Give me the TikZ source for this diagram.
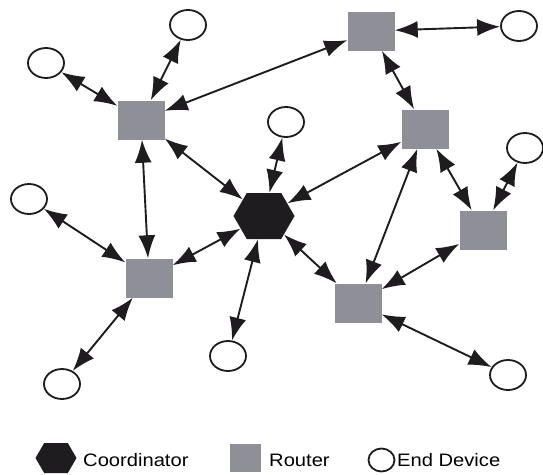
\documentclass[tikz,border=0pt]{standalone}
\usepackage{fontspec}
\setmainfont{Liberation Sans}
\newfontfamily\legfont{Liberation Sans}[FakeStretch=1.12]
\usetikzlibrary{arrows.meta,shapes.geometric,shapes.symbols}
\definecolor{routergray}{RGB}{143,144,151}
\definecolor{inkblack}{RGB}{30,28,30}
\begin{document}
\begin{tikzpicture}[
 router/.style={rectangle,fill=routergray,minimum width=47pt,minimum height=39pt,inner sep=0pt},
 enddev/.style={ellipse,draw=inkblack,line width=1.8pt,fill=white,minimum width=36pt,minimum height=30pt,inner sep=0pt},
 coordnode/.style={signal,signal to=east and west,signal pointer angle=120,fill=inkblack,minimum width=61pt,minimum height=46pt,inner sep=0pt},
 link/.style={line width=1.9pt,draw=inkblack,arrows={Latex[length=23pt,width=17pt]-Latex[length=23pt,width=17pt]}},
 legtext/.style={anchor=west,inner sep=0pt,font=\legfont\fontsize{18}{20}\selectfont}
]
\begin{scope}[x=1pt,y=-1pt]
\useasboundingbox (0,0) rectangle (543,474);
% routers
\node[router] (R1) at (141,120) {};
\node[router] (R2) at (371,31) {};
\node[router] (R3) at (425,129) {};
\node[router] (R4) at (483,230) {};
\node[router] (R5) at (149,278) {};
\node[router] (R6) at (358,303) {};
% coordinator
\node[coordnode] (C) at (264,216) {};
% end devices
\node[enddev] (E1) at (46,63) {};
\node[enddev] (E2) at (188,25) {};
\node[enddev] (E3) at (29,199) {};
\node[enddev] (E4) at (286,122) {};
\node[enddev] (E5) at (519,26) {};
\node[enddev] (E6) at (525,148) {};
\node[enddev] (E7) at (62,384) {};
\node[enddev] (E8) at (228,356) {};
\node[enddev] (E9) at (508,375) {};
% legend
\node[coordnode,minimum width=41pt,minimum height=30pt] (LC) at (56,458) {};
\node[legtext] (LCt) at (83,460) {Coordinator};
\node[router,minimum width=31pt,minimum height=28pt] (LR) at (245.5,458) {};
\node[legtext] (LRt) at (269,460) {Router};
\node[enddev,minimum width=26pt,minimum height=23pt] (LE) at (381.5,460) {};
\node[legtext] (LEt) at (397,460) {End Device};
\end{scope}
% links
\draw[link] (E1) -- (R1);
\draw[link] (E2) -- (R1);
\draw[link] (R1) -- (R2);
\draw[link] (R1) -- (C);
\draw[link] (R1) -- (R5);
\draw[link] (E3) -- (R5);
\draw[link] (C) -- (R5);
\draw[link] (R5) -- (E7);
\draw[link] (E4) -- (C);
\draw[link] (C) -- (E8);
\draw[link] (C) -- (R3);
\draw[link] (C) -- (R6);
\draw[link] (R2) -- (E5);
\draw[link] (R2) -- (R3);
\draw[link] (R3) -- (R4);
\draw[link] (R3) -- (R6);
\draw[link] (R4) -- (E6);
\draw[link] (R4) -- (R6);
\draw[link] (R6) -- (E9);
\end{tikzpicture}
\end{document}
